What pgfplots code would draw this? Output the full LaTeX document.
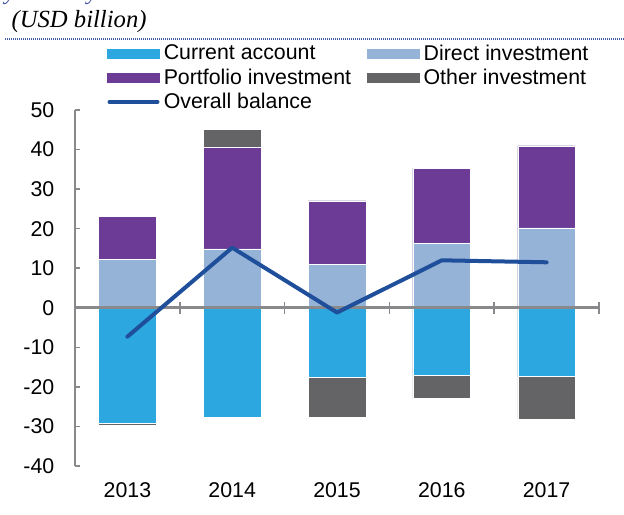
\documentclass[border=0pt]{standalone}
\usepackage{fontspec}
\setmainfont{Liberation Sans}
\newfontfamily\serifit{Liberation Serif}
\usepackage{pgfplots}
\pgfplotsset{compat=1.18}
\definecolor{cacol}{RGB}{44,167,223}
\definecolor{dicol}{RGB}{149,179,215}
\definecolor{picol}{RGB}{108,59,150}
\definecolor{oicol}{RGB}{100,100,103}
\definecolor{obcol}{RGB}{31,79,155}
\definecolor{axgrey}{RGB}{137,137,140}
\definecolor{hdblue}{RGB}{68,90,170}
\begin{document}
\fontsize{16}{19}\selectfont
\begin{tikzpicture}
\useasboundingbox (0pt,0pt) rectangle (468pt,385.5pt);
\begin{scope}
\clip (0pt,0pt) rectangle (468pt,385.5pt);
\node[anchor=base west, inner sep=0pt, text=hdblue, font=\serifit\itshape\fontsize{18}{21}\selectfont] at (3.5pt,385.6pt) {year-on-year};
\end{scope}
\node[anchor=base west, inner sep=0pt, font=\serifit\itshape\fontsize{18.5}{21}\selectfont] at (8.5pt,364.5pt) {(USD billion)};
\draw[hdblue, line width=1pt, dash pattern=on 0.6pt off 0.9pt] (3.75pt,356.25pt) -- (468pt,356.25pt);
\begin{axis}[
  at={(56.25pt,36pt)}, anchor=south west,
  scale only axis, width=393pt, height=267pt,
  xmin=-0.5, xmax=4.5, ymin=-40, ymax=50,
  axis y line=left, axis x line=bottom,
  axis line style={-, axgrey, line width=1.2pt},
  x axis line style={draw=none},
  xtick={0,1,2,3,4}, xticklabels={2013,2014,2015,2016,2017},
  ytick={-40,-30,-20,-10,0,10,20,30,40,50},
  tick align=inside,
  major tick length=4pt,
  ytick style={axgrey, line width=1.2pt},
  xtick style={draw=none},
  /pgf/number format/assume math mode=true,
  ticklabel style={font=\fontsize{16}{19}\selectfont},
  yticklabel style={xshift=-10pt},
  xticklabel style={yshift=-7pt},
  legend columns=2,
  legend style={at={(0.061,1.19)}, anchor=north west, draw=none, fill=none,
    font=\fontsize{16}{19}\selectfont, inner sep=0pt, row sep=1pt,
    nodes={inner sep=1.5pt},
    /tikz/every odd column/.append style={column sep=1.5pt},
    /tikz/every even column/.append style={column sep=10.5pt}},
  legend cell align=left,
  clip=false,
]
% positive totals (other investment on top)
\addplot[ybar, bar width=0.55, bar shift=0pt, fill=oicol, draw=white, line width=0.4pt, forget plot]
  coordinates {(0,23.1) (1,45.1) (2,27.0) (3,35.3) (4,40.9)};
% negative totals (current account + other investment)
\addplot[ybar, bar width=0.55, bar shift=0pt, fill=oicol, draw=white, line width=0.4pt, forget plot]
  coordinates {(0,-29.8) (1,-27.6) (2,-27.6) (3,-22.9) (4,-28.2)};
% direct + portfolio
\addplot[ybar, bar width=0.55, bar shift=0pt, fill=picol, draw=white, line width=0.4pt, forget plot]
  coordinates {(0,23.1) (1,40.7) (2,27.0) (3,35.3) (4,40.9)};
% direct investment
\addplot[ybar, bar width=0.55, bar shift=0pt, fill=dicol, draw=white, line width=0.4pt, forget plot]
  coordinates {(0,12.2) (1,14.9) (2,10.9) (3,16.2) (4,20.2)};
% current account
\addplot[ybar, bar width=0.55, bar shift=0pt, fill=cacol, draw=white, line width=0.4pt, forget plot]
  coordinates {(0,-29.2) (1,-27.6) (2,-17.6) (3,-17.1) (4,-17.4)};
% zero line with category ticks
\draw[axgrey, line width=2pt] (axis cs:-0.5,0) -- (axis cs:4.5,0);
\pgfplotsinvokeforeach{0.5,1.5,2.5,3.5,4.5}{
  \draw[axgrey, line width=1.2pt] (axis cs:#1,0) ++(0pt,-4.5pt) -- ++(0pt,9pt);
}
% overall balance
\addplot[sharp plot, obcol, line width=3pt, line cap=round, line join=round, forget plot]
  coordinates {(0,-7.3) (1,15.2) (2,-1.2) (3,12.0) (4,11.5)};
% legend
\addlegendimage{legend image code/.code={\fill[cacol] (0pt,-3.5pt) rectangle (39pt,3.5pt);}}
\addlegendentry{Current account}
\addlegendimage{legend image code/.code={\fill[dicol] (0pt,-3.5pt) rectangle (39pt,3.5pt);}}
\addlegendentry{Direct investment}
\addlegendimage{legend image code/.code={\fill[picol] (0pt,-3.5pt) rectangle (39pt,3.5pt);}}
\addlegendentry{Portfolio investment}
\addlegendimage{legend image code/.code={\fill[oicol] (0pt,-3.5pt) rectangle (39pt,3.5pt);}}
\addlegendentry{Other investment}
\addlegendimage{legend image code/.code={\draw[obcol, line width=3pt, line cap=round] (1.5pt,0pt) -- (37.5pt,0pt);}}
\addlegendentry{Overall balance}
\end{axis}
\end{tikzpicture}
\end{document}
